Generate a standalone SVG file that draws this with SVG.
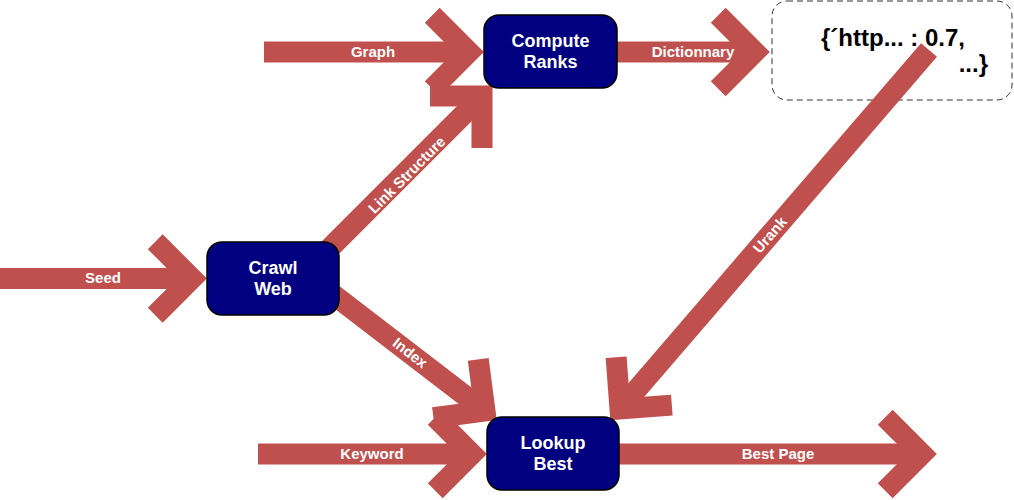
<svg xmlns="http://www.w3.org/2000/svg" width="1014" height="500" viewBox="0 0 1014 500">
<style>
.arr{fill:none;stroke:#C0504D;stroke-width:21;stroke-linecap:butt;stroke-linejoin:miter;marker-end:url(#chev)}
.node{fill:#000080;stroke:#000000;stroke-width:1.5}
.nt{font-family:"Liberation Sans",Arial,sans-serif;font-weight:bold;font-size:18px;fill:#ffffff;text-anchor:middle}
.lt{font-family:"Liberation Sans",Arial,sans-serif;font-weight:bold;font-size:15px;fill:#ffffff;text-anchor:middle}
.dt{font-family:"Liberation Sans",Arial,sans-serif;font-weight:bold;font-size:24px;fill:#000000}
</style>
<defs>
<marker id="chev" markerUnits="strokeWidth" markerWidth="6" markerHeight="6" viewBox="-3 -3 6 6" refX="0" refY="0" orient="auto" overflow="visible">
<path d="M-1.75,-1.75 L0,0 L-1.75,1.75" fill="none" stroke="#C0504D" stroke-width="1" stroke-linejoin="miter" stroke-linecap="butt"/>
</marker>
</defs>
<rect width="1014" height="500" fill="#ffffff"/>
<g id="dictionary">
<rect x="772" y="1" width="240" height="99" rx="15" fill="#ffffff" stroke="#333333" stroke-width="1" stroke-dasharray="6,4"/>
<text class="dt" x="821" y="46">{´http... : 0.7,</text>
<text class="dt" x="988" y="72" text-anchor="end">...}</text>
</g>
<g id="connectors">
<path class="arr" d="M0,278.5 L192,278.5"/>
<path class="arr" d="M264,52 L469,52"/>
<path class="arr" d="M617,52 L755,52"/>
<path class="arr" d="M619,454 L922,454"/>
<path class="arr" d="M258,454 L472,454"/>
<path class="arr" d="M322,256 L482,96"/>
<path class="arr" d="M330,292 L485,411"/>
<path class="arr" d="M929,50 L620,409"/>
<text class="lt" x="103" y="283">Seed</text>
<text class="lt" x="373" y="57">Graph</text>
<text class="lt" x="693" y="57">Dictionnary</text>
<text class="lt" x="372" y="459">Keyword</text>
<text class="lt" x="778" y="459">Best Page</text>
<text class="lt" transform="translate(407,175) rotate(-45)" y="5">Link Structure</text>
<text class="lt" transform="translate(410,353) rotate(37.5)" y="5">Index</text>
<text class="lt" transform="translate(770,235) rotate(-49)" y="5">Urank</text>
</g>
<g id="compute-ranks">
<rect class="node" x="484" y="15" width="133" height="73" rx="15"/>
<text class="nt" x="550.5" y="47">Compute</text>
<text class="nt" x="550.5" y="68">Ranks</text>
</g>
<g id="crawl-web">
<rect class="node" x="207" y="242" width="132" height="73" rx="15"/>
<text class="nt" x="273" y="274">Crawl</text>
<text class="nt" x="273" y="295">Web</text>
</g>
<g id="lookup-best">
<rect class="node" x="487" y="417" width="132" height="73" rx="15"/>
<text class="nt" x="553" y="449">Lookup</text>
<text class="nt" x="553" y="470">Best</text>
</g>
</svg>
